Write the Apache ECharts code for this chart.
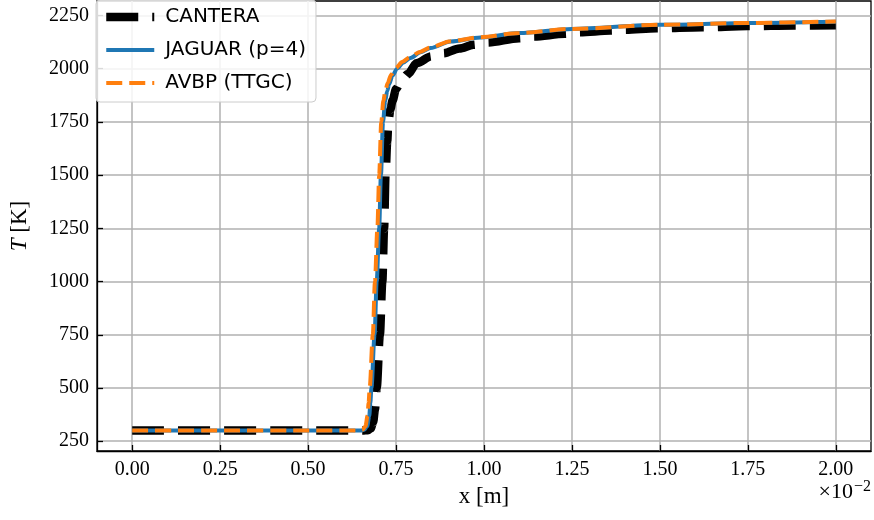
<!DOCTYPE html>
<html>
<head>
<meta charset="utf-8">
<script src="https://cdn.jsdelivr.net/npm/echarts@6/dist/echarts.min.js"></script>
<style>html,body{margin:0;padding:0;background:#fff;}#c{width:874px;height:520px;}</style>
</head>
<body>
<div id="c"></div>
<script>
// x in units of 1e-2 m
const canteraX = [0.00, 0.655, 0.670, 0.678, 0.685, 0.690, 0.695, 0.704, 0.711, 0.716, 0.720, 0.725, 0.728, 0.734, 0.740, 0.750, 0.765, 0.783, 0.810, 0.850, 0.885, 0.930, 0.970, 1.010, 1.100, 1.140, 1.230, 1.270, 1.360, 1.400, 1.490, 1.620, 1.750, 1.880, 2.000];
const canteraT = [300, 300, 302, 310, 340, 400, 500, 750, 1000, 1250, 1500, 1660, 1750, 1810, 1850, 1905, 1945, 1975, 2027, 2058, 2073, 2095, 2112, 2123, 2143, 2151, 2164, 2171, 2179, 2183, 2190, 2195, 2200, 2203, 2204];

const jaguarX = [0.00, 0.650, 0.660, 0.668, 0.674, 0.677, 0.680, 0.689, 0.695, 0.702, 0.707, 0.713, 0.719, 0.725, 0.730, 0.740, 0.753, 0.770, 0.791, 0.820, 0.848, 0.905, 0.990, 1.100, 1.250, 1.500, 1.750, 2.000];
const jaguarT = [300, 300, 304, 320, 370, 430, 500, 750, 1000, 1250, 1500, 1750, 1847, 1895, 1925, 1968, 2000, 2028, 2050, 2077, 2097, 2128, 2147, 2168, 2187, 2206, 2215, 2221];

const avbpX = [0.00, 0.645, 0.655, 0.663, 0.669, 0.672, 0.675, 0.684, 0.690, 0.697, 0.702, 0.708, 0.714, 0.720, 0.726, 0.736, 0.749, 0.767, 0.788, 0.818, 0.846, 0.905, 0.990, 1.100, 1.250, 1.500, 1.750, 2.000];
const avbpT = [300, 300, 304, 320, 370, 430, 500, 750, 1000, 1250, 1500, 1750, 1850, 1900, 1932, 1972, 2003, 2031, 2053, 2079, 2099, 2129, 2148, 2168, 2187, 2206, 2215, 2222];

const xTicks = [0.00, 0.25, 0.50, 0.75, 1.00, 1.25, 1.50, 1.75, 2.00];
const yTicks = [250, 500, 750, 1000, 1250, 1500, 1750, 2000, 2250];
const seriesNames = ['CANTERA', 'JAGUAR (p=4)', 'AVBP (TTGC)'];

const zip = (xs, ys) => xs.map((x, i) => [x, ys[i]]);
const serif = 'Liberation Serif';

const styles = [
  {color: '#000000', width: 8.5, type: [32, 14], cap: 'butt'},
  {color: '#1f77b4', width: 4, type: 'solid', cap: 'butt'},
  {color: '#ff7f0e', width: 4, type: [16, 7], cap: 'butt'}
];

const chart = echarts.init(document.getElementById('c'), null, {renderer: 'canvas'});
chart.setOption({
  animation: false,
  backgroundColor: '#fff',
  grid: {left: 96, right: 3, top: 1, bottom: 69, show: true, borderColor: '#000', borderWidth: 1.3, backgroundColor: 'transparent'},
  xAxis: {
    type: 'value', min: -0.1, max: 2.1,
    name: 'x [m]', nameLocation: 'middle', nameGap: 34,
    nameTextStyle: {fontFamily: serif, fontSize: 23, color: '#000'},
    axisLine: {show: true, onZero: false, lineStyle: {color: '#000', width: 1.3}},
    axisTick: {show: true, inside: true, length: 6, customValues: xTicks, lineStyle: {color: '#000', width: 1.3}},
    axisLabel: {customValues: xTicks, margin: 9, fontFamily: serif, fontSize: 20, color: '#000', formatter: v => v.toFixed(2)},
    splitLine: {show: true, lineStyle: {color: '#b0b0b0', width: 1.5}}
  },
  yAxis: {
    type: 'value', min: 204, max: 2318,
    name: '{i|T} [K]', nameLocation: 'middle', nameGap: 66, nameRotate: 90,
    nameTextStyle: {fontFamily: serif, fontSize: 23, color: '#000', rich: {i: {fontFamily: serif, fontStyle: 'italic', fontSize: 23, color: '#000'}}},
    axisLine: {show: true, onZero: false, lineStyle: {color: '#000', width: 1.3}},
    axisTick: {show: true, inside: true, length: 6, customValues: yTicks, lineStyle: {color: '#000', width: 1.3}},
    axisLabel: {customValues: yTicks, margin: 8, fontFamily: serif, fontSize: 20, color: '#000', formatter: v => String(v)},
    splitLine: {show: true, lineStyle: {color: '#b0b0b0', width: 1.5}}
  },
  legend: {
    orient: 'vertical', left: 96, top: 0,
    data: seriesNames.map((n, i) => ({name: n, itemStyle: {opacity: 0}, lineStyle: styles[i]})),
    itemWidth: 48, itemHeight: 14, itemGap: 13,
    padding: [7, 10, 9, 6],
    backgroundColor: 'rgba(255,255,255,0.85)', borderColor: '#cccccc', borderWidth: 1, borderRadius: 4,
    textStyle: {fontFamily: 'DejaVu Sans', fontSize: 20, lineHeight: 20, color: '#000', padding: [0, 0, 0, 6]}
  },
  series: [
    {name: seriesNames[0], type: 'line', data: zip(canteraX, canteraT), symbol: 'none', smooth: 0.3, smoothMonotone: 'x', z: 2,
     lineStyle: styles[0], itemStyle: {color: styles[0].color}},
    {name: seriesNames[1], type: 'line', data: zip(jaguarX, jaguarT), symbol: 'none', smooth: 0.3, smoothMonotone: 'x', z: 3,
     lineStyle: styles[1], itemStyle: {color: styles[1].color}},
    {name: seriesNames[2], type: 'line', data: zip(avbpX, avbpT), symbol: 'none', smooth: 0.3, smoothMonotone: 'x', z: 4,
     lineStyle: styles[2], itemStyle: {color: styles[2].color}}
  ],
  graphic: [{
    type: 'text', right: 3, top: 479,
    style: {text: '×10{s|−2}', fontFamily: serif, fontSize: 22, fill: '#000',
      rich: {s: {fontFamily: serif, fontSize: 16, verticalAlign: 'top', padding: [0, 0, 10, 1]}}}
  }]
});
</script>
</body>
</html>
